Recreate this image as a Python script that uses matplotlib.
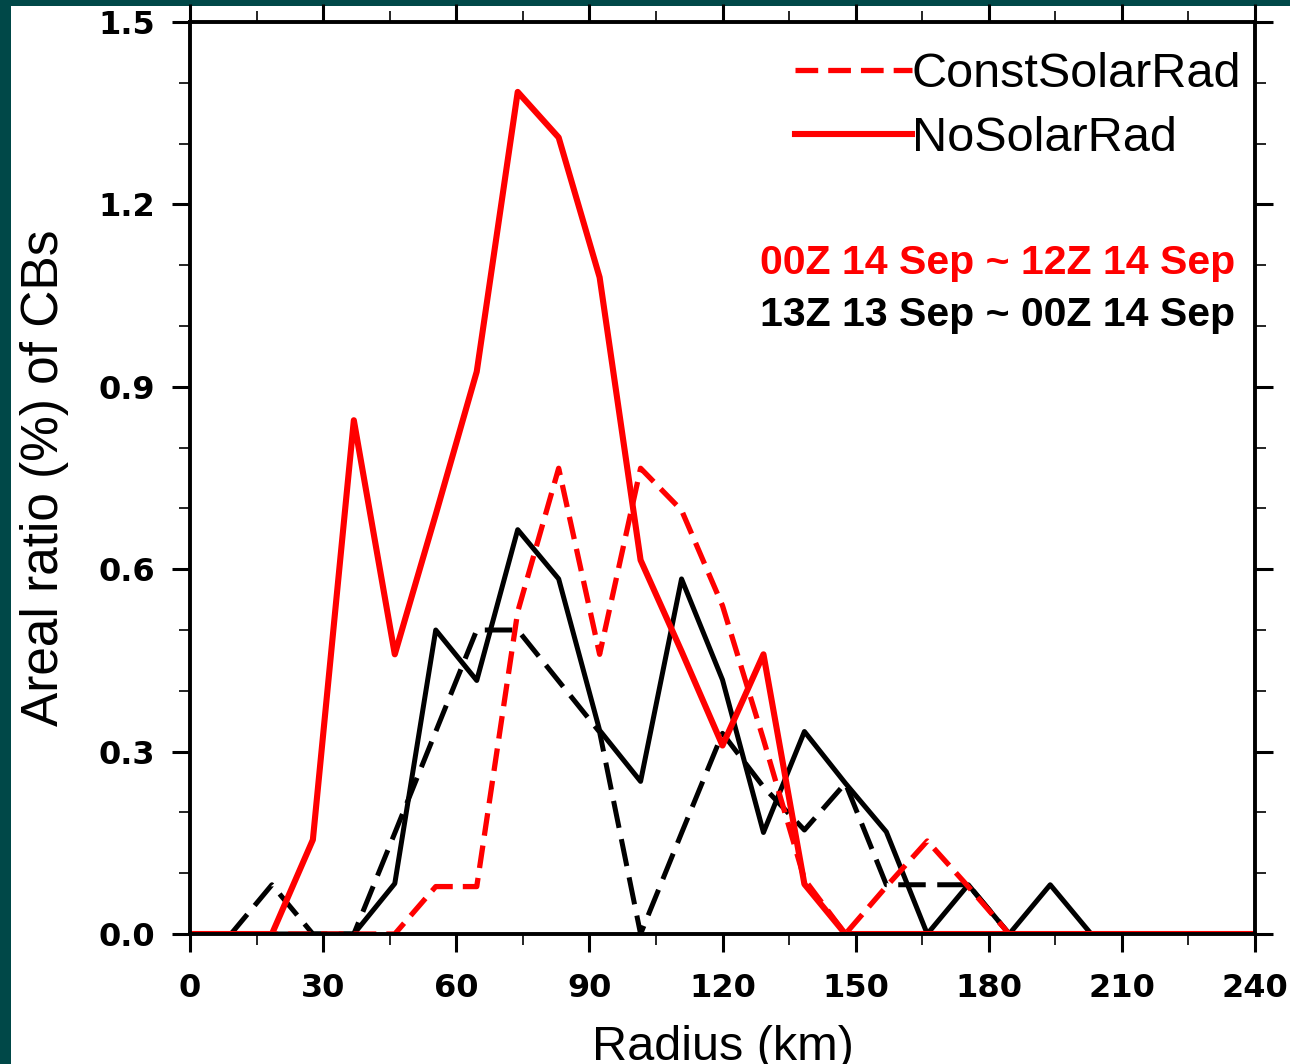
import numpy as np
import matplotlib.pyplot as plt
from matplotlib.lines import Line2D
from matplotlib.patches import Rectangle

# Radius bins (km)
radius = [0, 9.23, 18.46, 27.69, 36.92, 46.15, 55.38, 64.62, 73.85, 83.08,
          92.31, 101.54, 110.77, 120.0, 129.23, 138.46, 147.69, 156.92,
          166.15, 175.38, 184.62, 193.85, 203.08, 212.31, 221.54, 230.77, 240.0]

# 00Z 14 Sep ~ 12Z 14 Sep (red)
nosolar_late = [0, 0, 0, 0.155, 0.845, 0.46, 0.69, 0.925, 1.385, 1.31,
                1.08, 0.615, 0.465, 0.31, 0.46, 0.082, 0, 0, 0, 0,
                0, 0, 0, 0, 0, 0, 0]
constsolar_late = [0, 0, 0, 0, 0, 0, 0.078, 0.078, 0.53, 0.766,
                   0.46, 0.766, 0.697, 0.54, 0.32, 0.09, 0, 0.078, 0.153, 0.078,
                   0, 0, 0, 0, 0, 0, 0]

# 13Z 13 Sep ~ 00Z 14 Sep (black)
nosolar_early = [0, 0, 0, 0, 0, 0.083, 0.5, 0.417, 0.665, 0.584,
                 0.335, 0.251, 0.584, 0.418, 0.167, 0.333, 0.248, 0.168, 0, 0.081,
                 0, 0.081, 0, 0, 0, 0, 0]
constsolar_early = [0, 0, 0.081, 0, 0, 0.166, 0.333, 0.5, 0.5, 0.416,
                    0.332, 0, 0.166, 0.33, 0.242, 0.171, 0.248, 0.081, 0.081, 0.081,
                    0, 0, 0, 0, 0, 0, 0]

W, H = 1290, 1064
fig = plt.figure(figsize=(W / 100, H / 100), dpi=100, facecolor='#004848')
fig.add_artist(Rectangle((11 / W, 0), 1, 1 - 6 / H, transform=fig.transFigure,
                         facecolor='white', edgecolor='none', zorder=-10))

ax = fig.add_axes([190 / W, 1 - 934 / H, 1065 / W, 912 / H])

red_dash = (0, (4.3, 1.9))
blk_dash = (0, (5.5, 2.3))
ax.plot(radius, constsolar_early, color='black', lw=3.6, ls=blk_dash)
ax.plot(radius, nosolar_early, color='black', lw=3.6)
ax.plot(radius, constsolar_late, color='red', lw=3.8, ls=red_dash)
ax.plot(radius, nosolar_late, color='red', lw=4.4)

ax.set_xlim(0, 240)
ax.set_ylim(0, 1.5)
ax.set_xticks(np.arange(0, 241, 30))
ax.set_xticks(np.arange(0, 241, 15), minor=True)
ax.set_yticks(np.arange(0, 1.51, 0.3))
ax.set_yticks(np.arange(0, 1.51, 0.1), minor=True)
ax.yaxis.set_major_formatter('{x:.1f}')

for s in ax.spines.values():
    s.set_linewidth(2.8)
ax.tick_params(which='both', direction='out', top=True, right=True)
ax.tick_params(which='major', length=13, width=2.2, labelsize=23,
               labelfontfamily='DejaVu Sans')
ax.tick_params(which='minor', length=8, width=1.2)
ax.tick_params(axis='x', pad=15)
ax.tick_params(axis='y', pad=12)
for lab in ax.get_xticklabels() + ax.get_yticklabels():
    lab.set_fontweight('bold')

ax.set_xlabel('Radius (km)', fontsize=35, fontfamily='Liberation Sans')
ax.set_ylabel('Areal ratio (%) of CBs', fontsize=37, fontfamily='Liberation Sans')
ax.xaxis.set_label_coords(0.5, -0.10)
ax.yaxis.set_label_coords(-0.114, 0.5)

# Leyenda
handles = [Line2D([], [], color='red', lw=3.8, ls=red_dash),
           Line2D([], [], color='red', lw=4.4)]
ax.legend(handles, ['ConstSolarRad', 'NoSolarRad'], loc='upper left',
          bbox_to_anchor=(795 / W, 1 - 52 / H), bbox_transform=fig.transFigure,
          frameon=False, handlelength=2.4, handletextpad=0.0, borderpad=0,
          borderaxespad=0, labelspacing=0.4,
          prop={'family': 'Liberation Sans', 'size': 35})

ax.text(0.9812, 0.7234, '00Z 14 Sep ~ 12Z 14 Sep', transform=ax.transAxes,
        ha='right', va='baseline', color='red', fontsize=29.5,
        fontweight='bold', fontfamily='Liberation Sans')
ax.text(0.9812, 0.6664, '13Z 13 Sep ~ 00Z 14 Sep', transform=ax.transAxes,
        ha='right', va='baseline', color='black', fontsize=29.5,
        fontweight='bold', fontfamily='Liberation Sans')

fig.savefig('out.png', dpi=100, facecolor=fig.get_facecolor())
